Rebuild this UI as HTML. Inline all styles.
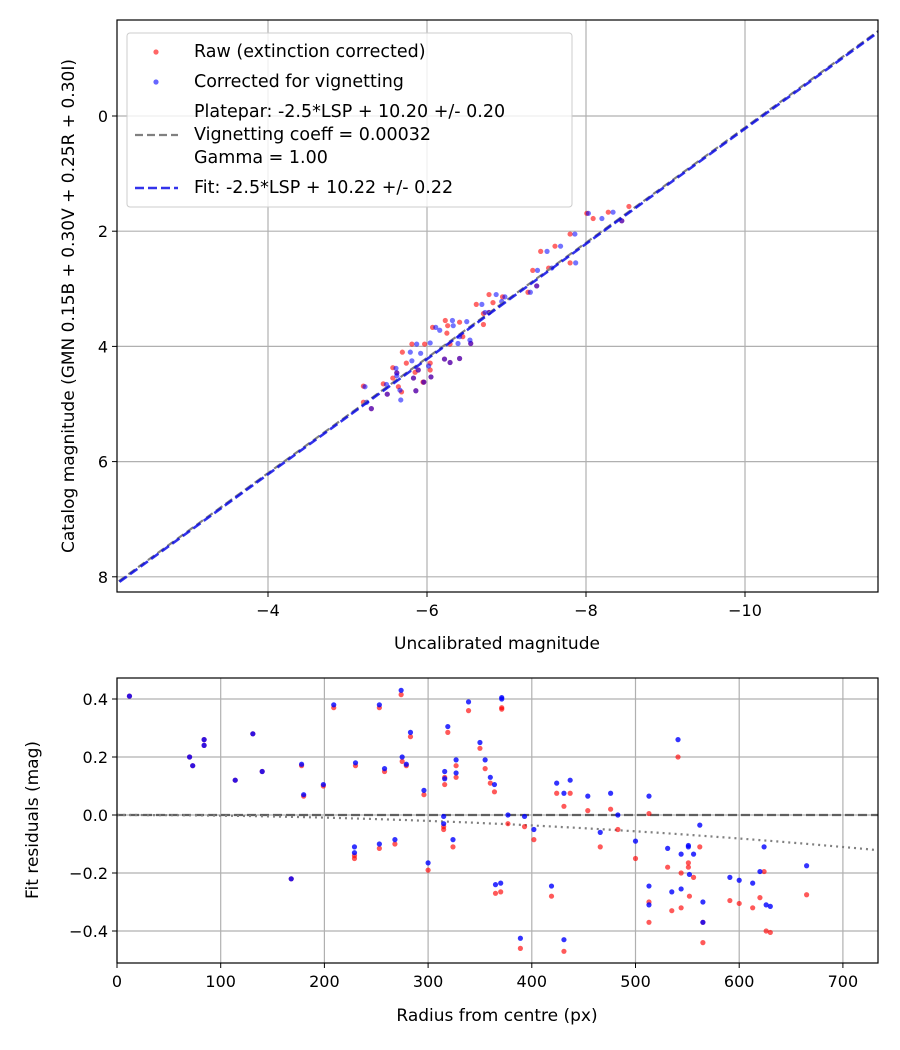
<!DOCTYPE html>
<html><head><meta charset="utf-8"><style>
body{margin:0;background:#fff}
svg{display:block;font-family:"DejaVu Sans","Liberation Sans",sans-serif}
</style></head><body>
<svg id="chart" width="900" height="1050" viewBox="0 0 900 1050">
<rect width="900" height="1050" fill="#fff"/>
<defs><clipPath id="ct"><rect x="117" y="20" width="761" height="572"/></clipPath><clipPath id="cb"><rect x="117" y="678" width="761" height="285"/></clipPath></defs>
<g id="topPlot"></g>
<g id="botPlot"></g>
</svg>
<script>
// Top chart data
const topXTicks = [-4, -6, -8, -10];
const topYTicks = [0, 2, 4, 6, 8];
const rawX = [-8.01,-8.09,-8.28,-8.54,-7.80,-7.43,-7.61,-7.33,-7.53,-7.80,-7.27,-6.78,-6.62,-6.83,-6.95,-6.71,-6.23,-6.07,-6.26,-6.41,-6.25,-6.29,-6.45,-6.71,-5.81,-5.69,-5.97,-5.57,-5.74,-5.85,-6.04,-5.95,-5.20,-5.20,-5.57,-5.64,-5.68,-5.45,-6.04,
 -8.45,-7.38,-6.78,-6.55,-6.29,-6.22,-6.41,-5.86,-5.30,-5.50,-5.96,-6.05,-5.83,-5.89,-5.62];
const rawY = [1.69,1.78,1.67,1.57,2.05,2.35,2.26,2.68,2.64,2.55,3.06,3.10,3.27,3.24,3.14,3.43,3.55,3.67,3.64,3.58,3.77,3.96,3.83,3.62,3.96,4.10,3.96,4.37,4.29,4.45,4.41,4.62,4.69,4.97,4.55,4.70,4.79,4.65,4.29,
 1.82,2.95,3.41,3.95,4.28,4.22,4.21,4.77,5.08,4.83,4.62,4.53,4.55,4.41,4.46];
const corX = [-8.03,-8.20,-8.34,-7.86,-7.51,-7.68,-7.39,-7.57,-7.87,-7.30,-6.87,-6.69,-6.94,-6.98,-6.73,-6.32,-6.11,-6.33,-6.50,-5.87,-5.79,-6.04,-5.61,-5.81,-5.92,-6.02,-5.22,-5.24,-5.62,-5.66,-5.67,-5.49,-6.16,-6.41,-6.39,-6.54,
 -8.45,-7.38,-6.78,-6.55,-6.29,-6.22,-6.41,-5.86,-5.30,-5.50,-5.96,-6.05,-5.83,-5.89,-5.62];
const corY = [1.69,1.78,1.67,2.05,2.35,2.26,2.68,2.64,2.55,3.06,3.10,3.27,3.22,3.14,3.41,3.55,3.67,3.64,3.57,3.96,4.10,3.94,4.38,4.25,4.12,4.34,4.70,4.97,4.51,4.76,4.93,4.66,3.72,3.83,3.95,3.89,
 1.82,2.95,3.41,3.95,4.28,4.22,4.21,4.77,5.08,4.83,4.62,4.53,4.55,4.41,4.46];
const fitZero = 10.22;
const plateZero = 10.20;
// Bottom chart data
const botXTicks = [0,100,200,300,400,500,600,700];
const botYTicks = [0.4,0.2,0.0,-0.2,-0.4];
const resR = [12,70,73,84,84,114,131,140,168,178,180,199,209,229,229,230,253,253,258,268,274,275,279,283,296,300,315,315,316,316,319,324,327,327,339,350,355,360,364,365,370,371,371,377,389,393,402,419,424,431,431,437,454,466,476,483,500,513,513,513,531,535,541,544,544,551,551,552,556,562,565,565,591,600,613,620,624,626,630,665];
const resRaw = [0.41,0.20,0.17,0.26,0.24,0.12,0.28,0.15,-0.22,0.17,0.065,0.10,0.37,-0.14,-0.15,0.17,0.37,-0.115,0.15,-0.10,0.415,0.185,0.17,0.27,0.07,-0.19,-0.05,-0.04,0.13,0.105,0.285,-0.11,0.13,0.17,0.36,0.23,0.16,0.11,0.08,-0.27,-0.265,0.365,0.37,-0.03,-0.46,-0.04,-0.085,-0.28,0.075,0.03,-0.47,0.075,0.015,-0.11,0.02,-0.05,-0.15,-0.30,0.005,-0.37,-0.18,-0.33,0.20,-0.32,-0.20,-0.165,-0.18,-0.28,-0.215,-0.11,-0.37,-0.44,-0.295,-0.305,-0.32,-0.285,-0.195,-0.40,-0.405,-0.275];
const resCor = [0.41,0.20,0.17,0.26,0.24,0.12,0.28,0.15,-0.22,0.175,0.07,0.105,0.38,-0.11,-0.13,0.18,0.38,-0.10,0.16,-0.085,0.43,0.20,0.175,0.285,0.085,-0.165,-0.03,-0.005,0.15,0.125,0.305,-0.085,0.145,0.19,0.39,0.25,0.19,0.13,0.105,-0.24,-0.235,0.40,0.405,0.0,-0.425,-0.005,-0.05,-0.245,0.11,0.075,-0.43,0.12,0.065,-0.06,0.075,0.0,-0.09,-0.245,0.065,-0.31,-0.115,-0.265,0.26,-0.255,-0.135,-0.105,-0.11,-0.205,-0.135,-0.035,-0.30,-0.37,-0.215,-0.225,-0.235,-0.195,-0.11,-0.31,-0.315,-0.175];
const vignK = 2.25e-7;

const NS='http://www.w3.org/2000/svg';
function mk(parent, tag, attrs, text){const e=document.createElementNS(NS,tag);for(const k in attrs)e.setAttribute(k,attrs[k]);if(text!==undefined)e.textContent=text;parent.appendChild(e);return e;}

// ---- TOP ----
const T={x0:117,x1:878,y0:20,y1:592};
const tx=v=>268+(-4-v)*79.5;
const ty=v=>116+v*57.6;
const topG=document.getElementById('topPlot');
topXTicks.forEach(v=>{
 const g=mk(topG,'line',{x1:tx(v),x2:tx(v),y1:T.y0,y2:T.y1,stroke:'#b0b0b0','stroke-width':1.2});
 
 
 mk(topG,'line',{x1:tx(v),x2:tx(v),y1:T.y1,y2:T.y1+5,stroke:'#000'});
 const t=mk(topG,'text',{x:tx(v),y:T.y1+24,'text-anchor':'middle','font-size':16},'\u2212'+Math.abs(v));
 
 
});
topYTicks.forEach(v=>{
 const g=mk(topG,'line',{x1:T.x0,x2:T.x1,y1:ty(v),y2:ty(v),stroke:'#b0b0b0','stroke-width':1.2});
 
 
 mk(topG,'line',{x1:T.x0-5,x2:T.x0,y1:ty(v),y2:ty(v),stroke:'#000'});
 const t=mk(topG,'text',{x:T.x0-9,y:ty(v)+6,'text-anchor':'end','font-size':16},String(v));
 
 
});
const tp=mk(topG,'g',{'clip-path':'url(#ct)'});
rawX.forEach((x,i)=>{const c=mk(tp,'circle',{cx:tx(x),cy:ty(rawY[i]),r:2.6,fill:'rgba(255,0,0,0.6)'});
 
 });
corX.forEach((x,i)=>{const c=mk(tp,'circle',{cx:tx(x),cy:ty(corY[i]),r:2.6,fill:'rgba(0,0,255,0.55)'});
 
 });
const xa=-2, xb=-12;
const pl=mk(tp,'line',{x1:tx(xa),y1:ty(xa+plateZero),x2:tx(xb),y2:ty(xb+plateZero),stroke:'#808080','stroke-width':2.2,'stroke-dasharray':'8,4'});


const fl=mk(tp,'line',{x1:tx(xa),y1:ty(xa+fitZero),x2:tx(xb),y2:ty(xb+fitZero),stroke:'rgba(0,0,230,0.8)','stroke-width':2.6,'stroke-dasharray':'9,4'});


mk(topG,'rect',{x:T.x0,y:T.y0,width:T.x1-T.x0,height:T.y1-T.y0,fill:'none',stroke:'#000','stroke-width':1.2});
const xt=mk(topG,'text',{x:497,y:649,'text-anchor':'middle','font-size':17},'Uncalibrated magnitude');


const yt=mk(topG,'text',{x:0,y:0,'text-anchor':'middle','font-size':17,transform:'translate(74,306) rotate(-90)'},'Catalog magnitude (GMN 0.15B + 0.30V + 0.25R + 0.30I)');


// legend
const lg=mk(topG,'g',{});


mk(lg,'rect',{x:127,y:33,width:445,height:174,rx:3,fill:'rgba(255,255,255,0.8)',stroke:'#ccc'});
mk(lg,'circle',{cx:156,cy:52,r:2.6,fill:'rgba(255,0,0,0.6)'});
mk(lg,'circle',{cx:156,cy:82,r:2.6,fill:'rgba(0,0,255,0.6)'});
mk(lg,'line',{x1:135,x2:178,y1:135,y2:135,stroke:'#808080','stroke-width':2.2,'stroke-dasharray':'8,4'});
mk(lg,'line',{x1:135,x2:178,y1:188,y2:188,stroke:'rgba(0,0,230,0.8)','stroke-width':2.6,'stroke-dasharray':'9,4'});
[['Raw (extinction corrected)',57],['Corrected for vignetting',87],['Platepar: -2.5*LSP + 10.20 +/- 0.20',117],['Vignetting coeff = 0.00032',140],['Gamma = 1.00',163],['Fit: -2.5*LSP + 10.22 +/- 0.22',193]].forEach(([s,y])=>{
 const t=mk(lg,'text',{x:194,y:y,'font-size':17.5},s);
 
 
});

// ---- BOTTOM ----
const B={x0:117,x1:878,y0:678,y1:963};
const bx=v=>117+v*1.037;
const by=v=>815-v*290;
const botG=document.getElementById('botPlot');
botXTicks.forEach(v=>{
 const g=mk(botG,'line',{x1:bx(v),x2:bx(v),y1:B.y0,y2:B.y1,stroke:'#b0b0b0','stroke-width':1.2});
 
 
 mk(botG,'line',{x1:bx(v),x2:bx(v),y1:B.y1,y2:B.y1+5,stroke:'#000'});
 const t=mk(botG,'text',{x:bx(v),y:B.y1+24,'text-anchor':'middle','font-size':16},String(v));
 
 
});
botYTicks.forEach(v=>{
 const g=mk(botG,'line',{x1:B.x0,x2:B.x1,y1:by(v),y2:by(v),stroke:'#b0b0b0','stroke-width':1.2});
 
 
 mk(botG,'line',{x1:B.x0-5,x2:B.x0,y1:by(v),y2:by(v),stroke:'#000'});
 const s=(v<0?'\u2212':'')+Math.abs(v).toFixed(1);
 const t=mk(botG,'text',{x:B.x0-9,y:by(v)+6,'text-anchor':'end','font-size':16},s);
 
 
});
const bp=mk(botG,'g',{'clip-path':'url(#cb)'});
const zl=mk(bp,'line',{x1:B.x0,x2:B.x1,y1:by(0),y2:by(0),stroke:'#606060','stroke-width':2.2,'stroke-dasharray':'9,4'});


let d='';for(let r=0;r<=740;r+=10){d+=(r?'L':'M')+bx(r).toFixed(1)+','+by(-vignK*r*r).toFixed(1);}
const vl=mk(bp,'path',{d:d,fill:'none',stroke:'#808080','stroke-width':2.2,'stroke-dasharray':'2,4'});


resR.forEach((r,i)=>{const c=mk(bp,'circle',{cx:bx(r),cy:by(resRaw[i]),r:2.6,fill:'rgba(255,0,0,0.65)'});
 
 });
resR.forEach((r,i)=>{const c=mk(bp,'circle',{cx:bx(r),cy:by(resCor[i]),r:2.6,fill:'rgba(0,0,255,0.8)'});
 
 });
mk(botG,'rect',{x:B.x0,y:B.y0,width:B.x1-B.x0,height:B.y1-B.y0,fill:'none',stroke:'#000','stroke-width':1.2});
const bxt=mk(botG,'text',{x:497,y:1021,'text-anchor':'middle','font-size':17},'Radius from centre (px)');


const byt=mk(botG,'text',{x:0,y:0,'text-anchor':'middle','font-size':17,transform:'translate(38,820) rotate(-90)'},'Fit residuals (mag)');


</script>
</body></html>
